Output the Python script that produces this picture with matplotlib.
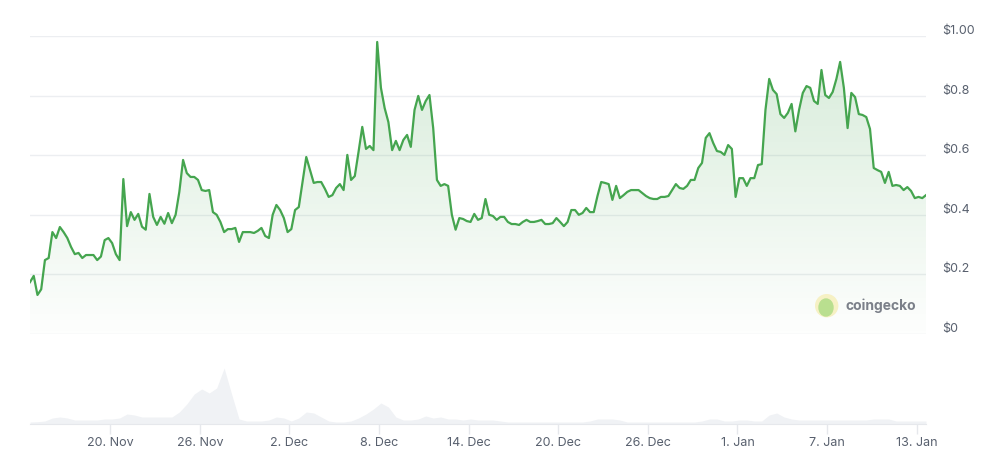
import numpy as np
import pandas as pd
import matplotlib
matplotlib.use("Agg")
import matplotlib.pyplot as plt
import matplotlib.dates as mdates
from matplotlib.transforms import ScaledTranslation
from matplotlib.colors import LinearSegmentedColormap
from matplotlib.patches import Ellipse

# price in USD, every 6 hours starting 14 Nov 2023 15:00
price = [
    0.174, 0.195, 0.131, 0.150, 0.248, 0.255, 0.342, 0.322, 0.359, 0.342,
    0.322, 0.292, 0.268, 0.272, 0.255, 0.265, 0.265, 0.265, 0.248, 0.260,
    0.315, 0.322, 0.305, 0.268, 0.248, 0.520, 0.362, 0.409, 0.383, 0.403,
    0.360, 0.350, 0.470, 0.393, 0.366, 0.393, 0.370, 0.406, 0.372, 0.400,
    0.477, 0.584, 0.540, 0.527, 0.527, 0.517, 0.483, 0.480, 0.483, 0.409,
    0.400, 0.376, 0.342, 0.352, 0.352, 0.356, 0.309, 0.342, 0.342, 0.342,
    0.339, 0.346, 0.356, 0.329, 0.322, 0.400, 0.433, 0.416, 0.389, 0.342,
    0.352, 0.416, 0.426, 0.510, 0.594, 0.550, 0.507, 0.510, 0.510, 0.487,
    0.460, 0.466, 0.490, 0.503, 0.483, 0.601, 0.517, 0.530, 0.611, 0.695,
    0.621, 0.631, 0.617, 0.980, 0.826, 0.758, 0.711, 0.617, 0.648, 0.617,
    0.651, 0.668, 0.628, 0.752, 0.799, 0.752, 0.782, 0.802, 0.691, 0.517,
    0.497, 0.503, 0.497, 0.400, 0.350, 0.389, 0.386, 0.379, 0.376, 0.403,
    0.383, 0.389, 0.453, 0.400, 0.396, 0.383, 0.393, 0.393, 0.376, 0.369,
    0.369, 0.366, 0.376, 0.383, 0.376, 0.376, 0.379, 0.383, 0.369, 0.369,
    0.372, 0.389, 0.376, 0.362, 0.376, 0.416, 0.416, 0.400, 0.406, 0.423,
    0.409, 0.409, 0.463, 0.510, 0.507, 0.503, 0.450, 0.497, 0.456, 0.466,
    0.477, 0.483, 0.483, 0.483, 0.473, 0.463, 0.456, 0.453, 0.453, 0.460,
    0.460, 0.463, 0.483, 0.503, 0.490, 0.487, 0.497, 0.517, 0.517, 0.557,
    0.574, 0.658, 0.674, 0.641, 0.614, 0.611, 0.601, 0.634, 0.621, 0.460,
    0.523, 0.523, 0.497, 0.523, 0.523, 0.567, 0.570, 0.752, 0.856, 0.819,
    0.805, 0.738, 0.725, 0.742, 0.772, 0.680, 0.752, 0.809, 0.832, 0.826,
    0.782, 0.772, 0.886, 0.802, 0.792, 0.812, 0.856, 0.913, 0.826, 0.691,
    0.809, 0.795, 0.738, 0.735, 0.728, 0.688, 0.557, 0.550, 0.544, 0.507,
    0.544, 0.497, 0.500, 0.497, 0.483, 0.493, 0.480, 0.456, 0.460, 0.456,
    0.466,
]

# trading volume (relative, every 12 hours)
volume = [
    0.2, 0.23, 0.3, 0.6, 0.7, 0.6, 0.4, 0.4, 0.4, 0.4,
    0.5, 0.5, 0.6, 1.0, 0.9, 0.7, 0.7, 0.7, 0.7, 0.7,
    1.2, 2.0, 3.0, 3.5, 3.1, 3.6, 5.6, 3.0, 0.5, 0.3,
    0.3, 0.3, 0.4, 0.7, 0.6, 0.3, 0.6, 1.2, 1.1, 0.7,
    0.3, 0.2, 0.2, 0.3, 0.6, 1.0, 1.5, 2.1, 1.7, 0.7,
    0.4, 0.4, 0.5, 0.8, 0.6, 0.7, 0.5, 0.5, 0.4, 0.5,
    0.4, 0.4, 0.4, 0.3, 0.2, 0.2, 0.2, 0.2, 0.2, 0.2,
    0.2, 0.2, 0.2, 0.2, 0.2, 0.3, 0.5, 0.5, 0.5, 0.4,
    0.2, 0.2, 0.2, 0.2, 0.2, 0.2, 0.2, 0.2, 0.2, 0.2,
    0.3, 0.5, 0.5, 0.3, 0.3, 0.4, 0.4, 0.3, 0.3, 0.9,
    1.1, 0.7, 0.5, 0.4, 0.4, 0.4, 0.4, 0.4, 0.4, 0.4,
    0.4, 0.4, 0.4, 0.5, 0.5, 0.5, 0.3, 0.3, 0.3, 0.3,
    0.3,
]

tick_dates = ["2023-11-20", "2023-11-26", "2023-12-02", "2023-12-08", "2023-12-14",
              "2023-12-20", "2023-12-26", "2024-01-01", "2024-01-07", "2024-01-13"]
tick_labels = ["20. Nov", "26. Nov", "2. Dec", "8. Dec", "14. Dec",
               "20. Dec", "26. Dec", "1. Jan", "7. Jan", "13. Jan"]
price_ticks = [0, 0.2, 0.4, 0.6, 0.8, 1.0]
price_labels = ["$0", "$0.2", "$0.4", "$0.6", "$0.8", "$1.00"]

plt.rcParams['font.family'] = ['Inter', 'DejaVu Sans']

start = pd.Timestamp("2023-11-14 15:00")
xp = mdates.date2num(pd.date_range(start, periods=len(price), freq="6h").to_pydatetime())
xv = mdates.date2num(pd.date_range(start, periods=len(volume), freq="12h").to_pydatetime())
xt = mdates.date2num(pd.to_datetime(tick_dates).to_pydatetime())

line_c = "#45a54f"
text_c = "#58606e"
grid_c = "#eceef1"

fig = plt.figure(figsize=(9.97, 4.58), dpi=100)
W, H = 997, 458

# price panel
ax = fig.add_axes([30 / W, 124 / H, 896 / W, 298 / H])
poly = ax.fill_between(xp, price, 0, color="none", lw=0)
grad = np.linspace(0, 1, 256).reshape(-1, 1)
cmap = LinearSegmentedColormap.from_list(
    "g", [(0.27, 0.65, 0.31, 0.01), (0.27, 0.65, 0.31, 0.22)])
im = ax.imshow(grad, extent=[xp[0], xp[-1], 0, 1], origin="lower",
               aspect="auto", cmap=cmap, zorder=2)
im.set_clip_path(poly.get_paths()[0], transform=ax.transData)
ax.plot(xp, price, color=line_c, lw=1.6, solid_joinstyle="round", zorder=3)

ax.set_xlim(xp[0], xp[-1])
ax.set_ylim(0, 1)
ax.set_yticks(price_ticks)
ax.set_xticks([])
ax.set_yticklabels([])
ax.tick_params(axis="y", length=0)
ax.grid(axis="y", color=grid_c, lw=1)
ax.set_axisbelow(True)
for s in ax.spines.values():
    s.set_visible(False)

off = ScaledTranslation(16 / 100, 5 / 100, fig.dpi_scale_trans)
for v, lbl in zip(price_ticks, price_labels):
    ax.text(1.0, v, lbl, transform=ax.get_yaxis_transform() + off,
            ha="left", va="center", fontsize=9, color=text_c)

# volume panel
axv = fig.add_axes([30 / W, 34 / H, 896 / W, 80 / H])
axv.fill_between(xv, volume, 0, color="#f0f2f5", lw=0)
axv.set_xlim(xp[0], xp[-1])
axv.set_ylim(0, 8)
axv.set_yticks([])
axv.set_xticks(xt)
axv.set_xticklabels(tick_labels)
axv.tick_params(axis="x", length=7, width=1, color="#e6e8ec",
                labelsize=9, labelcolor=text_c, pad=2)
for k, s in axv.spines.items():
    s.set_visible(k == "bottom")
axv.spines["bottom"].set_color("#e6e8ec")

# coingecko watermark
fig.patches.append(Ellipse((826.7 / W, 1 - 305.7 / H), 22 / W, 22 / H,
                           transform=fig.transFigure, color="#f6f1c4", zorder=5))
fig.patches.append(Ellipse((826.0 / W, 1 - 307.5 / H), 14 / W, 17 / H,
                           transform=fig.transFigure, color="#b9df8f", zorder=6))
fig.text(846 / W, 1 - 305.7 / H, "coingecko", ha="left", va="center",
         fontsize=10, fontweight="bold", color="#7b8089")

fig.savefig("out.png", dpi=100)
